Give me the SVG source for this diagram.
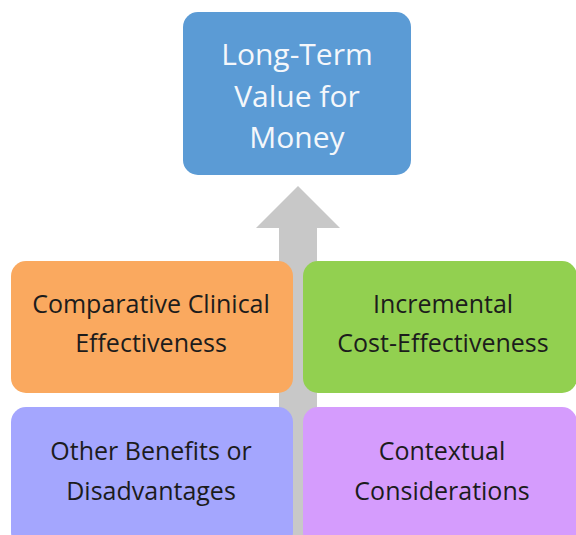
<svg xmlns="http://www.w3.org/2000/svg" width="576" height="535" viewBox="0 0 576 535">
<style>
.box{stroke:none}
.t{font-family:"Open Sans","Liberation Sans",sans-serif;text-anchor:middle;fill:#1c1c1c;font-size:25px}
.tw{font-family:"Open Sans","Liberation Sans",sans-serif;text-anchor:middle;fill:#f4f7fb;font-size:30px}
</style>
<rect width="576" height="535" fill="#ffffff"/>
<g id="connectors">
<polygon points="298,186 340,228 317,228 317,535 279,535 279,228 256,228" fill="#c8c8c8"/>
</g>
<g id="node-top">
<rect class="box" x="183" y="12" width="228" height="163" rx="15" fill="#5b9bd5"/>
<text class="tw" x="297" y="65">Long-Term</text>
<text class="tw" x="297" y="107">Value for</text>
<text class="tw" x="297" y="148">Money</text>
</g>
<g id="node-ccE">
<rect class="box" x="11" y="261" width="282" height="132" rx="15" fill="#faa95f"/>
<text class="t" x="151" y="313">Comparative Clinical</text>
<text class="t" x="151" y="352">Effectiveness</text>
</g>
<g id="node-ice">
<rect class="box" x="303" y="261" width="274" height="132" rx="15" fill="#92d050"/>
<text class="t" x="443" y="313">Incremental</text>
<text class="t" x="443" y="352">Cost-Effectiveness</text>
</g>
<g id="node-obd">
<rect class="box" x="11" y="407" width="282" height="140" rx="15" fill="#a4a6fe"/>
<text class="t" x="151" y="460">Other Benefits or</text>
<text class="t" x="151" y="500">Disadvantages</text>
</g>
<g id="node-cc">
<rect class="box" x="303" y="407" width="274" height="140" rx="15" fill="#d59cfd"/>
<text class="t" x="442" y="460">Contextual</text>
<text class="t" x="442" y="500">Considerations</text>
</g>
</svg>
